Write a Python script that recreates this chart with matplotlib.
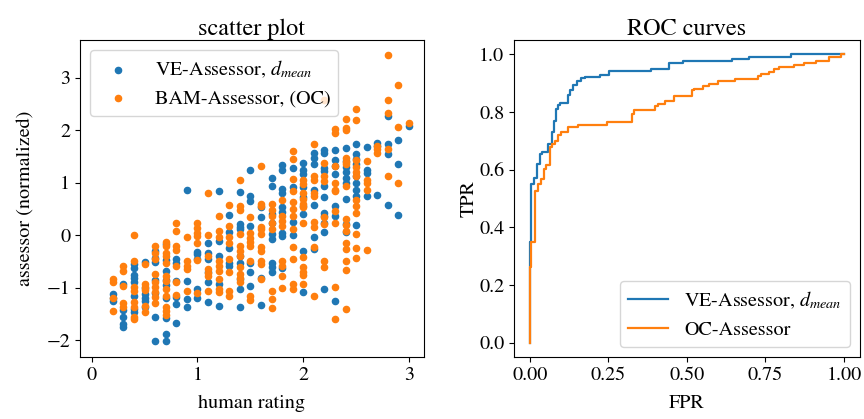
import numpy as np
import matplotlib
matplotlib.use("Agg")
import matplotlib.pyplot as plt

plt.rcParams['font.family'] = 'serif'
plt.rcParams['font.serif'] = ['STIXGeneral', 'Liberation Serif', 'DejaVu Serif']
plt.rcParams['mathtext.fontset'] = 'stix'
plt.rcParams['font.size'] = 14.5

# human rating columns (0.2 ... 3.0)
ratings = [0.2, 0.3, 0.4, 0.5, 0.6, 0.7, 0.8, 0.9, 1.0, 1.1, 1.2, 1.3, 1.4, 1.5,
           1.6, 1.7, 1.8, 1.9, 2.0, 2.1, 2.2, 2.3, 2.4, 2.5, 2.6, 2.7, 2.8, 2.9, 3.0]

# normalized VE-Assessor scores for each rating column
ve_scores = [
    [-1.12, -1.2, -1.25],
    [-0.93, -1.43, -1.55, -1.69, -1.74],
    [-0.55, -0.63, -0.75, -0.82, -0.9, -1.15, -1.41, -1.47],
    [-0.51, -1.0, -1.12, -1.2, -1.25, -1.37],
    [-0.3, -0.44, -0.51, -0.85, -1.1, -1.55, -2.01],
    [-0.16, -0.47, -0.68, -0.85, -0.95, -1.2, -1.58, -1.88, -2.01],
    [-0.46, -0.52, -0.87, -1.18, -1.31, -1.68],
    [0.86, -0.87, -1.22, -1.37],
    [-0.32, -0.36, -0.46, -1.03, -1.2],
    [-0.14, -0.33, -0.46, -0.7, -0.9, -1.27],
    [0.84, -0.11, -0.39, -0.93, -1.34],
    [0.38, 0.06, -0.25, -0.52, -0.58],
    [0.82, 0.21, 0.15, 0.11, -0.39, -0.52, -0.84, -1.03, -1.37],
    [1.24, 0.74, 0.65, 0.18, -0.52, -0.71, -0.96],
    [0.53, 0.34, -0.82, -1.33],
    [1.1, 0.94, 0.4, 0.24, 0.02, -0.08, -0.52, -0.61, -0.71],
    [1.33, 1.24, 0.89, 0.8, 0.53, 0.44, 0.05, -0.01, -0.63],
    [1.29, 0.91, 0.25, 0.0],
    [1.38, 1.25, 1.16, 0.91, 0.72, 0.55, 0.4, -0.3, -1.09],
    [1.56, 1.48, 1.35, 0.87, 0.57, -0.03, -0.27],
    [1.62, 1.56, 1.29, 1.22, 0.94, 0.72, 0.42, 0.36, 0.24, 0.06, -1.03],
    [1.63, 1.44, 1.32, 1.16, 0.56, 0.37, -1.26],
    [1.66, 1.41, 1.3, 1.2, 1.1, 1.0, 0.7, 0.21, 0.06],
    [1.73, 1.54, 1.45, 1.35, 1.13, 1.0, 0.87, 0.75, 0.19],
    [1.69, 1.25, 1.18, 0.75],
    [1.76, 1.7, 0.76],
    [2.28, 1.74, 1.55, 0.57],
    [1.81, 1.35, 0.39],
    [2.09],
]

# normalized BAM-Assessor (OC) scores for each rating column
oc_scores = [
    [-0.84, -0.9, -1.2, -1.45],
    [-0.58, -0.68, -0.96, -1.29, -1.37],
    [0.0, -0.49, -0.98, -1.06, -1.27, -1.37, -1.55, -1.6],
    [-0.55, -0.92, -0.98, -1.05, -1.34, -1.46],
    [-0.2, -0.34, -0.45, -0.74, -0.9, -0.98, -1.08, -1.18, -1.29],
    [-0.13, -0.2, -0.33, -0.4, -0.52, -0.77, -0.88, -1.03, -1.15, -1.36, -1.44, -1.52],
    [0.23, 0.08, -0.2, -0.28, -0.58, -0.9, -1.14],
    [-0.03, -0.49, -0.58, -0.65, -1.06],
    [0.23, 0.13, 0.05, -0.02, -0.14, -0.47, -1.1],
    [0.81, 0.0, -0.39, -0.65, -0.72, -0.77, -1.06],
    [0.36, 0.08, -0.04, -0.49, -0.58, -0.68, -0.84, -1.03, -1.09],
    [0.57, 0.18, -0.04, -0.14, -0.46, -0.71, -1.06, -1.15],
    [1.05, 0.55, 0.48, 0.02, -0.2, -0.3, -0.4, -0.61, -0.74, -0.82, -0.9],
    [0.34, 0.05, -0.05, -0.12, -0.2, -0.5, -1.15, -1.23],
    [1.31, 0.59, 0.55, 0.15, 0.11, 0.02, -0.23, -0.3, -0.49, -0.55, -0.84],
    [0.6, 0.48, 0.36, 0.24, 0.11, -1.06, -1.22, -1.39],
    [0.68, 0.37, 0.28, 0.18, -0.49, -0.58, -0.77, -1.01],
    [1.6, 1.46, 1.08, 0.84, 0.63, 0.5, 0.37, 0.11, -0.23, -0.46, -0.93, -1.03],
    [1.06, 0.97, 0.81, 0.7, 0.6, 0.53, 0.24, -0.42, -0.61, -0.71, -0.76, -0.93],
    [1.73, 1.13, 1.06, 0.81, 0.75, 0.25, 0.16, -0.23, -1.15],
    [2.58, 1.38, 1.13, 1.03, 0.34, 0.21, -0.49, -0.6],
    [2.02, 1.94, 1.32, 1.0, 0.87, 0.84, 0.46, 0.24, -0.98, -1.6],
    [2.22, 2.05, 2.0, 1.48, 1.4, 1.35, 0.94, 0.3, 0.2, 0.08, -0.14, -0.27, -0.49, -0.66, -1.41],
    [2.4, 2.2, 1.44, 1.3, 1.2, 1.13, 0.68, 0.55, 0.42, 0.03, -0.25, -0.44],
    [1.41, 1.06, 0.99, 0.87, -0.29],
    [1.7, 1.65, 1.57],
    [3.43, 2.57, 2.32, 1.65, 1.13],
    [2.87, 2.07, 1.0],
    [2.13],
]

# ROC curves (step corners)
ve_fpr = [0.0, 0.0, 0.005, 0.013, 0.023, 0.032, 0.040, 0.058, 0.071, 0.077, 0.083, 0.090,
          0.097, 0.122, 0.129, 0.138, 0.150, 0.164, 0.175, 0.222, 0.252, 0.386, 0.442,
          0.487, 0.645, 0.698, 0.831, 1.0]
ve_tpr = [0.0, 0.35, 0.549, 0.572, 0.619, 0.654, 0.66, 0.689, 0.73, 0.77, 0.811, 0.825,
          0.833, 0.858, 0.878, 0.895, 0.907, 0.918, 0.922, 0.93, 0.943, 0.951, 0.969,
          0.977, 0.984, 0.992, 1.0, 1.0]

oc_fpr = [0.0, 0.0, 0.005, 0.015, 0.026, 0.037, 0.044, 0.053, 0.063, 0.071, 0.079, 0.090,
          0.100, 0.122, 0.153, 0.245, 0.326, 0.333, 0.397, 0.407, 0.429, 0.460, 0.515,
          0.524, 0.550, 0.571, 0.598, 0.654, 0.725, 0.735, 0.762, 0.778, 0.794, 0.841,
          0.873, 0.910, 0.952, 0.990, 1.0]
oc_tpr = [0.0, 0.263, 0.35, 0.526, 0.549, 0.566, 0.601, 0.615, 0.677, 0.689, 0.70, 0.72,
          0.73, 0.747, 0.755, 0.767, 0.794, 0.808, 0.82, 0.829, 0.837, 0.854, 0.875,
          0.88, 0.89, 0.899, 0.907, 0.914, 0.924, 0.931, 0.939, 0.948, 0.955, 0.963,
          0.971, 0.978, 0.992, 1.0, 1.0]

ve_x = np.repeat(ratings, [len(s) for s in ve_scores])
ve_y = np.concatenate(ve_scores)
oc_x = np.repeat(ratings, [len(s) for s in oc_scores])
oc_y = np.concatenate(oc_scores)

fig = plt.figure(figsize=(8.64, 4.19), dpi=100)
ax1 = fig.add_axes([0.0926, 0.148, 0.398, 0.7565])
ax2 = fig.add_axes([0.595, 0.148, 0.400, 0.7565])

# scatter plot
ax1.scatter(ve_x, ve_y, s=20, color='tab:blue', label=r'VE-Assessor, $d_{mean}$')
ax1.scatter(oc_x, oc_y, s=20, color='tab:orange', label='BAM-Assessor, (OC)')
ax1.set_xlim(-0.11, 3.14)
ax1.set_ylim(-2.32, 3.72)
ax1.set_xticks([0, 1, 2, 3])
ax1.set_yticks([-2, -1, 0, 1, 2, 3])
ax1.set_title('scatter plot', pad=2.5)
ax1.set_xlabel('human rating', labelpad=8)
ax1.set_ylabel('assessor (normalized)', labelpad=9)
ax1.legend(loc='upper left')

# ROC curves
ax2.plot(ve_fpr, ve_tpr, drawstyle='steps-post', lw=1.6, color='tab:blue',
         label=r'VE-Assessor, $d_{mean}$')
ax2.plot(oc_fpr, oc_tpr, drawstyle='steps-post', lw=1.6, color='tab:orange',
         label='OC-Assessor')
ax2.set_xticks([0.0, 0.25, 0.5, 0.75, 1.0])
ax2.set_yticks([0.0, 0.2, 0.4, 0.6, 0.8, 1.0])
ax2.set_title('ROC curves', pad=2.5)
ax2.set_xlabel('FPR', labelpad=8)
ax2.set_ylabel('TPR', labelpad=1)
ax2.legend(loc='lower right')

fig.savefig('out.png', dpi=100)
